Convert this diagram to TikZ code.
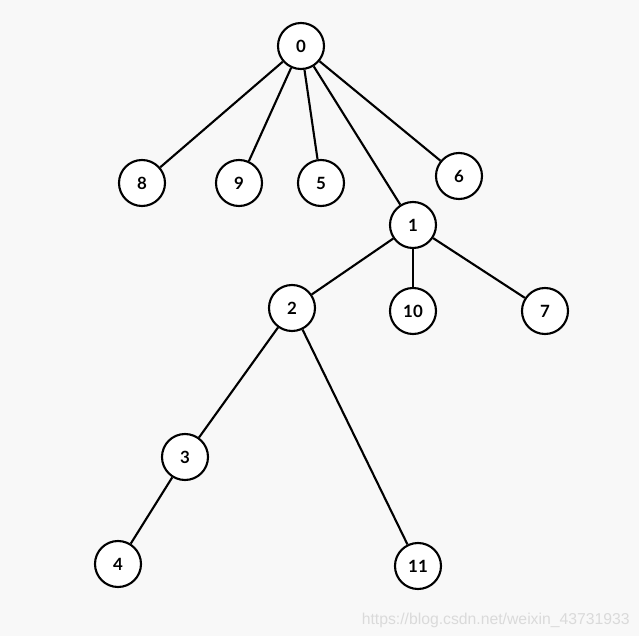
\documentclass[tikz,border=0pt]{standalone}
\usepackage{fontspec}
\setmainfont{Lato}
\newfontfamily\markfont{Liberation Sans}
\usetikzlibrary{positioning}
\definecolor{pagegray}{RGB}{248,248,248}
\definecolor{markgray}{RGB}{218,218,218}

\begin{document}
\begin{tikzpicture}[
  x=0.025cm, y=-0.025cm,
  vert/.style={draw, circle, line width=1.5pt, fill=white,
               minimum size=1.15cm, inner sep=0pt, font=\large\bfseries},
  edge/.style={line width=1.5pt}
]
\fill[pagegray] (0,0) rectangle (639,636);
\useasboundingbox (0,0) rectangle (639,636);

\node[vert] (n0)  at (301,46)  {0};
\node[vert] (n8)  at (142,183) {8};
\node[vert] (n9)  at (239,183) {9};
\node[vert] (n5)  at (321,183) {5};
\node[vert] (n6)  at (459,176) {6};
\node[vert] (n1)  at (413,225) {1};
\node[vert] (n2)  at (292,308) {2};
\node[vert] (n10) at (413,311) {10};
\node[vert] (n7)  at (545,311) {7};
\node[vert] (n3)  at (185,457) {3};
\node[vert] (n4)  at (118,564) {4};
\node[vert] (n11) at (418,566) {11};

\draw[edge] (n0)--(n8);  \draw[edge] (n0)--(n9);
\draw[edge] (n0)--(n5);  \draw[edge] (n0)--(n1);
\draw[edge] (n0)--(n6);
\draw[edge] (n1)--(n2);  \draw[edge] (n1)--(n10);
\draw[edge] (n1)--(n7);
\draw[edge] (n2)--(n3);  \draw[edge] (n2)--(n11);
\draw[edge] (n3)--(n4);

\node[anchor=base east, text=markgray, font=\markfont\fontsize{11.2}{13}\selectfont,
      inner sep=0pt] (mark) at (630,624) {https://blog.csdn.net/weixin\_43731933};
\end{tikzpicture}
\end{document}
